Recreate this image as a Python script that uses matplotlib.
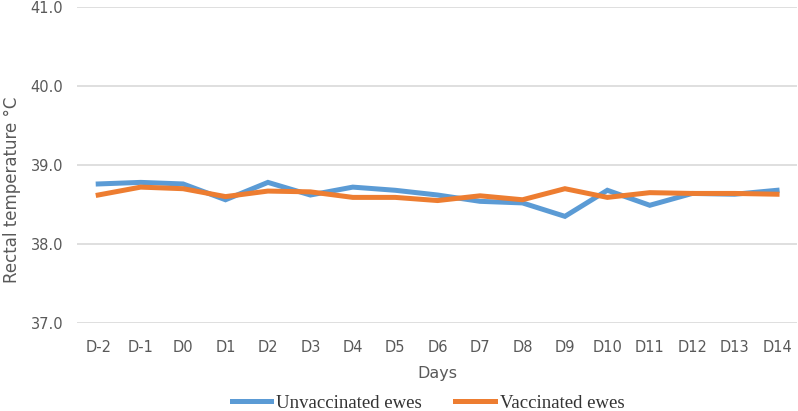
import numpy as np
import matplotlib
matplotlib.use("Agg")
import matplotlib.pyplot as plt
from matplotlib.lines import Line2D

days = ["D-2", "D-1", "D0", "D1", "D2", "D3", "D4", "D5", "D6",
        "D7", "D8", "D9", "D10", "D11", "D12", "D13", "D14"]
unvaccinated = [38.76, 38.78, 38.76, 38.56, 38.78, 38.62, 38.72, 38.68, 38.62,
                38.54, 38.52, 38.35, 38.68, 38.49, 38.64, 38.63, 38.68]
vaccinated = [38.62, 38.72, 38.70, 38.60, 38.67, 38.66, 38.59, 38.59, 38.55,
              38.61, 38.56, 38.70, 38.59, 38.65, 38.64, 38.64, 38.63]
yticks = [37.0, 38.0, 39.0, 40.0, 41.0]

blue = "#5B9BD5"
orange = "#ED7D31"
grey = "#595959"

fig = plt.figure(figsize=(7.98, 4.11), dpi=100)
ax = fig.add_axes([77/798, 1-323/411, 720/798, (323-7)/411])

x = np.arange(len(days))
ax.plot(x, unvaccinated, color=blue, lw=3.6, solid_joinstyle="miter")
ax.plot(x, vaccinated, color=orange, lw=3.6, solid_joinstyle="miter")

ax.set_ylim(37.0, 41.0)
ax.set_xlim(-0.5, 16.47)
ax.set_yticks(yticks)
ax.set_yticklabels(["%.1f" % v for v in yticks])
ax.set_xticks(x)
ax.set_xticklabels(days)
ax.grid(axis="y", color="#D9D9D9", lw=1.2)
ax.set_axisbelow(True)
for s in ax.spines.values():
    s.set_visible(False)
ax.tick_params(length=0, labelsize=10.5, colors=grey, pad=12)
ax.tick_params(axis="y", pad=10)

ax.set_xlabel("Days", fontsize=11.5, color=grey, labelpad=8)
ax.set_ylabel("Rectal temperature °C", fontsize=12, color=grey)
ax.yaxis.set_label_coords(-0.078, 0.42)

handles = [Line2D([], [], color=blue, lw=3.6), Line2D([], [], color=orange, lw=3.6)]
fig.legend(handles, ["Unvaccinated ewes", "Vaccinated ewes"], loc="center",
           bbox_to_anchor=(428/798, 1-403/411), ncol=2, frameon=False,
           prop={"family": "Liberation Serif", "size": 13.5},
           handlelength=2.1, handletextpad=0.27, columnspacing=1.8,
           labelcolor="#333333")

fig.savefig("out.png", dpi=100)
